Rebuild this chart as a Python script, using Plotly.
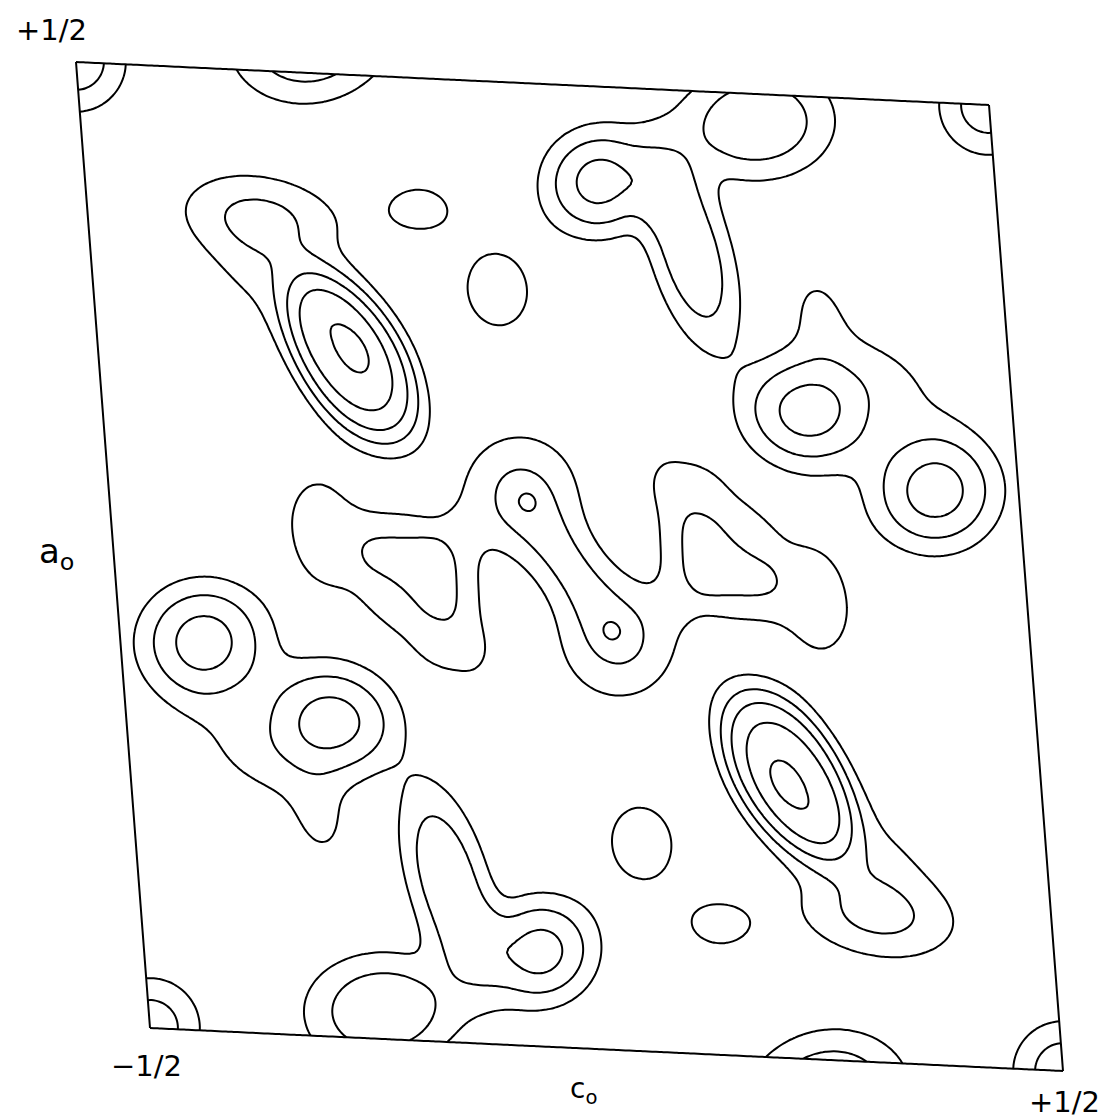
import numpy as np
import plotly.graph_objects as go

# ---- data: density peaks in fractional coordinates (c along the bottom edge, a along the left edge) ----
# general-position peaks; each one is repeated by the centre of symmetry at (0, 0)
peak_name = ["A1", "A2", "A3", "A4", "B1", "B2", "B4", "B5", "C1", "C2", "C3", "E",
             "D1", "D2", "Z1", "Z1s", "R1", "R2", "R3", "R4", "R5", "R6"]
peak_c = [-0.219, -0.221, -0.300, -0.307, 0.273, 0.408, 0.295, 0.366, 0.0635, 0.160, 0.166, 0.249,
          -0.136, -0.056, -0.048, -0.041, -0.268, -0.180, -0.113, -0.114, -0.138, -0.197]
peak_a = [0.211, 0.204, 0.301, 0.352, 0.171, 0.095, 0.279, 0.211, 0.399, 0.332, 0.451, 0.473,
          0.365, 0.284, 0.075, 0.066, 0.023, 0.034, 0.030, -0.0325, -0.0905, -0.047]
peak_h = [1.1, 4.4, 1.5, 1.4, 3.3, 3.35, 1.0, 1.1, 3.2, 2.4, 0.6, 2.5,
          1.35, 1.35, 2.1, 0.65, 1.55, 1.3, 0.4, 1.3, 1.45, 1.3]
peak_sa = [16, 83, 65, 60, 51, 49, 35, 60, 42, 88, 70, 56,
           30, 46, 44, 10, 52, 35, 22, 40, 30, 32]
peak_sb = [9, 45, 42, 28, 42, 45, 22, 32, 40, 35, 35, 44,
           22, 38, 44, 10, 32, 13, 20, 12, 22, 20]
peak_ang = [60, 58, 45, 5, 15, 0, 80, 35, 0, 74, 0, 0,
            0, 80, 0, 0, 80, 5, 0, 85, 20, 45]
peak_p = [2, 4, 2, 2, 2.5, 2.5, 2, 2, 2.5, 3.5, 2, 2.5,
          2, 2, 2, 2, 2, 2, 2, 2, 2, 2]

# special-position peaks (lattice point and symmetry centre, not repeated)
sp_c = [-0.5, 0.0]
sp_a = [-0.5, 0.0]
sp_h = [2.75, 1.9]
sp_sa = [35, 50]
sp_sb = [35, 24]
sp_ang = [0, 55]
sp_p = [2, 2]

contour_start, contour_end, contour_step = 1, 5, 1

# ---- cell drawing geometry (projection, slightly skewed) ----
ORIG = np.array([142.0, 1020.0])
E_C = np.array([913.0, 43.0])
E_A = np.array([-74.0, -966.0])

n = 241
cv = np.linspace(-0.5, 0.5, n)
av = np.linspace(-0.5, 0.5, n)
CC, AA = np.meshgrid(cv, av)
X = ORIG[0] + (CC + 0.5) * E_C[0] + (AA + 0.5) * E_A[0]
Y = ORIG[1] + (CC + 0.5) * E_C[1] + (AA + 0.5) * E_A[1]


def add_peak(rho, c, a, h, sa, sb, ang, p):
    th = np.radians(ang)
    ct, st = np.cos(th), np.sin(th)
    for i in (-1, 0, 1):
        for j in (-1, 0, 1):
            px = ORIG[0] + (c + 0.5 + i) * E_C[0] + (a + 0.5 + j) * E_A[0]
            py = ORIG[1] + (c + 0.5 + i) * E_C[1] + (a + 0.5 + j) * E_A[1]
            dx = X - px
            dy = Y - py
            u = dx * ct + dy * st
            v = -dx * st + dy * ct
            q = np.sqrt((u / sa) ** 2 + (v / sb) ** 2)
            rho += h * np.exp(-0.5 * q ** p)


rho = np.zeros_like(X)
for k in range(len(peak_c)):
    args = (peak_h[k], peak_sa[k], peak_sb[k], peak_ang[k], peak_p[k])
    add_peak(rho, peak_c[k], peak_a[k], *args)
    add_peak(rho, -peak_c[k], -peak_a[k], *args)
for k in range(len(sp_c)):
    add_peak(rho, sp_c[k], sp_a[k], sp_h[k], sp_sa[k], sp_sb[k], sp_ang[k], sp_p[k])

fig = go.Figure()
axis_style = dict(showgrid=False, showticklabels="none", showline=False,
                  startline=True, endline=True,
                  startlinecolor="black", endlinecolor="black",
                  startlinewidth=2, endlinewidth=2, minorgridcount=0)
fig.add_trace(go.Carpet(a=cv, b=av, x=X, y=Y, carpet="cell",
                        aaxis=axis_style, baxis=axis_style))
fig.add_trace(go.Contourcarpet(
    a=cv, b=av, z=rho, carpet="cell", autocontour=False,
    contours=dict(start=contour_start, end=contour_end, size=contour_step,
                  coloring="lines", showlabels=False),
    colorscale=[[0, "black"], [1, "black"]], showscale=False,
    line=dict(width=2, color="black")))

font = dict(family="DejaVu Sans", size=29, color="black")
fig.add_annotation(x=43, y=22, text="+1/2", showarrow=False, font=font, xref="x", yref="y")
fig.add_annotation(x=138, y=1058, text="−1/2", showarrow=False, font=font, xref="x", yref="y")
fig.add_annotation(x=1056, y=1094, text="+1/2", showarrow=False, font=font, xref="x", yref="y")
fig.add_annotation(x=48, y=545, text="a<sub>o</sub>", showarrow=False,
                   font=dict(family="DejaVu Sans", size=34, color="black"), xref="x", yref="y")
fig.add_annotation(x=575, y=1082, text="c<sub>o</sub>", showarrow=False,
                   font=dict(family="DejaVu Sans", size=28, color="black"), xref="x", yref="y")

fig.update_layout(
    width=1107, height=1119,
    margin=dict(l=0, r=0, t=0, b=0),
    paper_bgcolor="white", plot_bgcolor="white",
    xaxis=dict(range=[0, 1107], visible=False),
    yaxis=dict(range=[1119, 0], visible=False),
    showlegend=False,
)
fig.write_html("out.html")
